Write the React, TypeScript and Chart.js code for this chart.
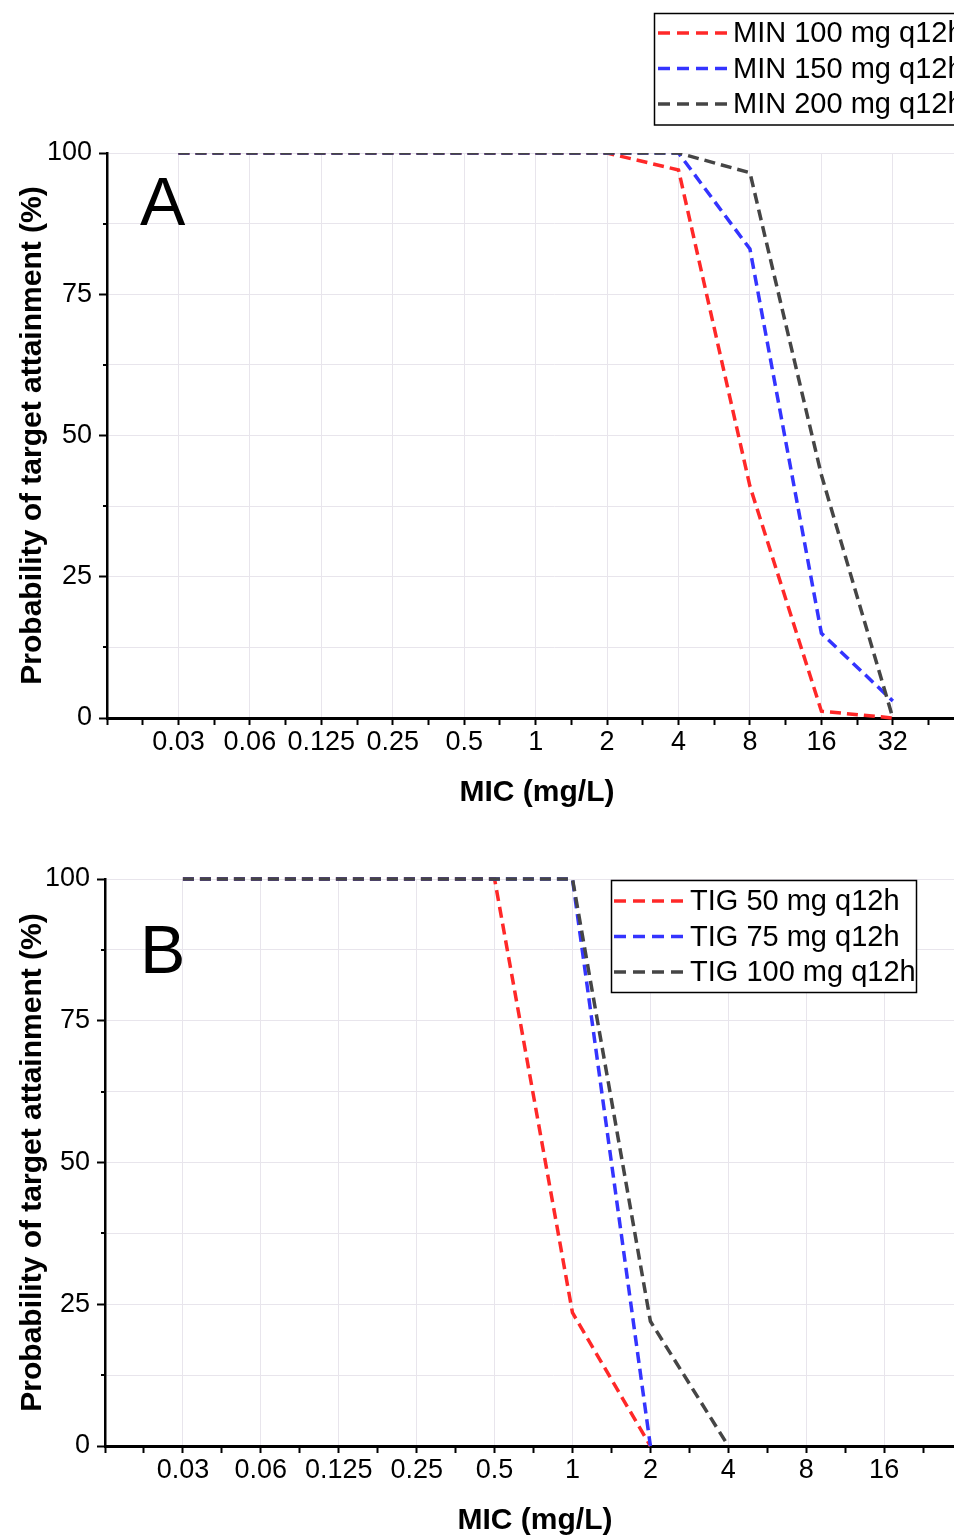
import React, { useEffect, useRef } from 'react';
import { Chart, registerables } from 'chart.js';

Chart.register(...registerables);

// ---------- data ----------
const MIC_A = ['0.03', '0.06', '0.125', '0.25', '0.5', '1', '2', '4', '8', '16', '32'];
const MIN_100 = [100, 100, 100, 100, 100, 100, 100, 97, 41, 1.2, 0];
const MIN_150 = [100, 100, 100, 100, 100, 100, 100, 100, 83, 15, 3];
const MIN_200 = [100, 100, 100, 100, 100, 100, 100, 100, 96.5, 43, 0];
const LABELS_A = ['MIN 100 mg q12h', 'MIN 150 mg q12h', 'MIN 200 mg q12h'];

const MIC_B = ['0.03', '0.06', '0.125', '0.25', '0.5', '1', '2', '4', '8', '16'];
const TIG_50 = [100, 100, 100, 100, 100, 23.5, 0];
const TIG_75 = [100, 100, 100, 100, 100, 100, 0];
const TIG_100 = [100, 100, 100, 100, 100, 100, 22, 0];
const LABELS_B = ['TIG 50 mg q12h', 'TIG 75 mg q12h', 'TIG 100 mg q12h'];

const Y_MAJOR_STEP = 25;
const Y_MINOR_STEP = 12.5;
const X_TITLE = 'MIC (mg/L)';
const Y_TITLE = 'Probability of target attainment (%)';

// ---------- styles ----------
const COLORS = ['#ff2828', '#3434ff', '#454545'];
const FONT = '"Liberation Sans", Arial, sans-serif';
const GRID = '#e8e5ec';

type Panel = {
  cats: string[];
  series: number[][];
  labels: string[];
  letter: string;
  letterX: number;
  letterY: number;
  xMax: number;
  yWidth: number;
  xHeight: number;
  padTop: number;
  xTitleX: number;
  xTitleY: number;
  clip: any;
  legend: { x: number; y: number; w: number; h: number; row0: number; gap: number; s0: number; s1: number; tx: number };
};

const PANEL_A: Panel = {
  cats: MIC_A,
  series: [MIN_100, MIN_150, MIN_200],
  labels: LABELS_A,
  letter: 'A',
  letterX: 140,
  letterY: 225,
  xMax: 11.5,
  yWidth: 107,
  xHeight: 97,
  padTop: 153,
  xTitleX: 537,
  xTitleY: 801,
  clip: { top: 0, left: false, right: false, bottom: 6 },
  legend: { x: 654.5, y: 13.5, w: 400, h: 111.5, row0: 33, gap: 35.5, s0: 658, s1: 727, tx: 733 },
};

const PANEL_B: Panel = {
  cats: MIC_B,
  series: [TIG_50, TIG_75, TIG_100],
  labels: LABELS_B,
  letter: 'B',
  letterX: 140,
  letterY: 973 - 815,
  xMax: 10.5,
  yWidth: 105,
  xHeight: 91,
  padTop: 64,
  xTitleX: 535,
  xTitleY: 1529 - 815,
  clip: false,
  legend: { x: 611.5, y: 880.5 - 815, w: 305, h: 112, row0: 901 - 815, gap: 35.5, s0: 614, s1: 683, tx: 690 },
};

function decor(p: Panel) {
  return {
    id: 'panelDecor' + p.letter,
    afterDraw(chart: any) {
      const ctx = chart.ctx as CanvasRenderingContext2D;
      const ys = chart.scales.y;
      const xs = chart.scales.x;
      ctx.save();
      // short minor ticks on the y axis
      ctx.strokeStyle = '#000';
      ctx.lineWidth = 2;
      for (let v = Y_MINOR_STEP; v < 100; v += Y_MAJOR_STEP) {
        const py = Math.round(ys.getPixelForValue(v));
        ctx.beginPath();
        ctx.moveTo(xs.left - 4, py);
        ctx.lineTo(xs.left, py);
        ctx.stroke();
      }
      // x axis title
      ctx.fillStyle = '#000';
      ctx.font = 'bold 30px ' + FONT;
      ctx.textAlign = 'center';
      ctx.textBaseline = 'alphabetic';
      ctx.fillText(X_TITLE, p.xTitleX, p.xTitleY);
      // panel letter
      ctx.font = '68px ' + FONT;
      ctx.textAlign = 'left';
      ctx.fillText(p.letter, p.letterX, p.letterY);
      // legend
      const lb = p.legend;
      ctx.fillStyle = '#fff';
      ctx.fillRect(lb.x, lb.y, lb.w, lb.h);
      ctx.strokeStyle = '#000';
      ctx.lineWidth = 1.5;
      ctx.strokeRect(lb.x, lb.y, lb.w, lb.h);
      chart.data.datasets.forEach((ds: any, i: number) => {
        const ry = lb.row0 + i * lb.gap;
        ctx.strokeStyle = ds.borderColor;
        ctx.lineWidth = 3.5;
        ctx.setLineDash([12, 7]);
        ctx.beginPath();
        ctx.moveTo(lb.s0, ry);
        ctx.lineTo(lb.s1, ry);
        ctx.stroke();
        ctx.setLineDash([]);
        ctx.fillStyle = '#000';
        ctx.font = '29px ' + FONT;
        ctx.textBaseline = 'middle';
        ctx.fillText(ds.label, lb.tx, ry + 1);
      });
      ctx.restore();
    },
  };
}

function buildConfig(p: Panel): any {
  const n = p.series.length;
  const datasets = p.series.map((vals, i) => ({
    label: p.labels[i],
    data: vals.map((v, j) => ({ x: j, y: v })),
    borderColor: COLORS[i],
    backgroundColor: COLORS[i],
    borderWidth: 3.5,
    borderDash: [11, 6],
    pointRadius: 0,
    tension: 0,
    fill: false,
    clip: p.clip,
    order: n - 1 - i, // later series drawn on top
  }));
  const isInt = (v: number) => Math.abs(v - Math.round(v)) < 1e-6;
  return {
    type: 'line',
    data: { datasets },
    options: {
      responsive: false,
      animation: false,
      devicePixelRatio: 1,
      layout: { padding: { top: p.padTop, left: 0, right: 0, bottom: 0 } },
      plugins: { legend: { display: false }, tooltip: { enabled: false } },
      scales: {
        x: {
          type: 'linear',
          min: -1,
          max: p.xMax,
          afterFit: (s: any) => {
            s.height = p.xHeight;
          },
          ticks: {
            stepSize: 0.5,
            autoSkip: false,
            maxRotation: 0,
            minRotation: 0,
            padding: 1,
            color: '#000',
            font: { family: FONT, size: 27 },
            callback: (v: number) => {
              if (!isInt(v)) return '';
              const i = Math.round(v);
              return i >= 0 && i < p.cats.length ? p.cats[i] : '';
            },
          },
          grid: {
            color: (c: any) => (c.tick && isInt(c.tick.value) && c.tick.value >= 0 ? GRID : 'rgba(0,0,0,0)'),
            lineWidth: 1,
            tickColor: '#000',
            tickLength: 7,
            tickWidth: 2,
          },
          border: { display: true, color: '#000', width: 3 },
          title: { display: false },
        },
        y: {
          type: 'linear',
          min: 0,
          max: 100,
          afterFit: (s: any) => {
            s.width = p.yWidth;
          },
          ticks: {
            stepSize: Y_MINOR_STEP,
            autoSkip: false,
            padding: 7,
            color: '#000',
            font: { family: FONT, size: 27 },
            callback: (v: number) => (Math.abs(v % Y_MAJOR_STEP) < 1e-6 ? String(v) : ''),
          },
          grid: {
            color: GRID,
            lineWidth: 1,
            tickColor: (c: any) => (c.tick && Math.abs(c.tick.value % Y_MAJOR_STEP) < 1e-6 ? '#000' : 'rgba(0,0,0,0)'),
            tickLength: 8,
            tickWidth: 2,
          },
          border: { display: true, color: '#000', width: 2.5 },
          title: {
            display: true,
            text: Y_TITLE,
            color: '#000',
            font: { family: FONT, size: 30, weight: 'bold' },
            padding: { top: 15, bottom: 0 },
          },
        },
      },
    },
    plugins: [decor(p)],
  };
}

export default function App() {
  const refA = useRef<HTMLCanvasElement>(null);
  const refB = useRef<HTMLCanvasElement>(null);
  useEffect(() => {
    document.body.style.margin = '0';
    document.documentElement.style.overflow = 'hidden';
    document.body.style.overflow = 'hidden';
    const a = new Chart(refA.current as HTMLCanvasElement, buildConfig(PANEL_A));
    const b = new Chart(refB.current as HTMLCanvasElement, buildConfig(PANEL_B));
    return () => {
      a.destroy();
      b.destroy();
    };
  }, []);
  return (
    <div
      style={{
        position: 'relative',
        width: 954,
        height: 1537,
        overflow: 'hidden',
        background: '#fff',
      }}
    >
      <canvas
        ref={refA}
        width={1001}
        height={815}
        style={{ position: 'absolute', left: 0, top: 0, width: 1001, height: 815 }}
      />
      <canvas
        ref={refB}
        width={1002}
        height={722}
        style={{ position: 'absolute', left: 0, top: 815, width: 1002, height: 722 }}
      />
    </div>
  );
}
